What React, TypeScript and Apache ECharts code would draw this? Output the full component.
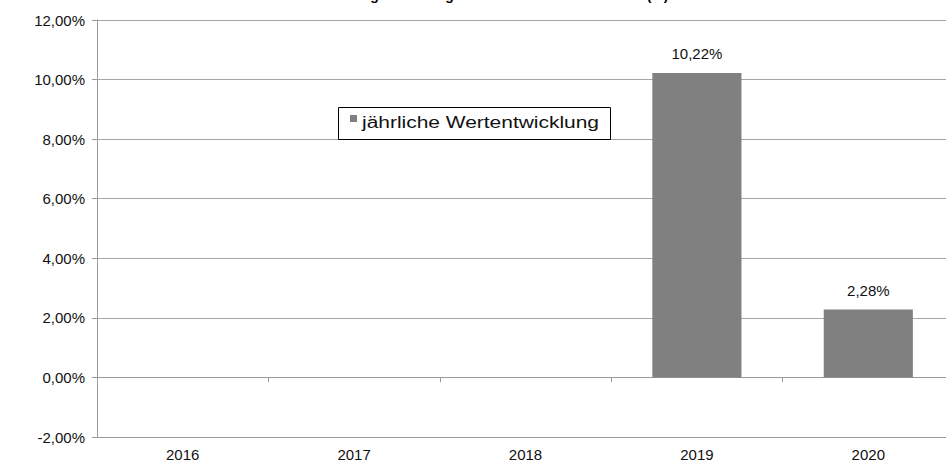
import React, { useEffect, useRef } from "react";
import * as echarts from "echarts";

const titleText = "Wertentwicklung seit Auflage der Anteilsklasse A in EUR (%)";
const seriesName = "jährliche Wertentwicklung";
const categories = ["2016", "2017", "2018", "2019", "2020"];
const values: (number | null)[] = [null, null, null, 10.22, 2.28];
const yMin = -2;
const yMax = 12;
const yStep = 2;

const fmt = (v: number) => v.toFixed(2).replace(".", ",") + "%";
const FONT = "'Liberation Sans', Arial, sans-serif";

export default function App() {
  const ref = useRef<HTMLDivElement>(null);
  useEffect(() => {
    if (!ref.current) return;
    const chart = echarts.init(ref.current, undefined, { renderer: "svg" });
    chart.setOption({
      animation: false,
      backgroundColor: "#ffffff",
      title: {
        text: titleText,
        left: 262,
        top: -17,
        textStyle: { fontFamily: FONT, fontSize: 14, fontWeight: "bold", color: "#000" },
      },
      legend: {
        data: [seriesName],
        left: 350,
        top: 115,
        padding: 0,
        icon: "rect",
        itemWidth: 7,
        itemHeight: 7,
        formatter: () => "",
        textStyle: { fontFamily: FONT, fontSize: 12, color: "#000" },
      },
      graphic: [
        {
          type: "rect",
          left: 336,
          top: 105,
          shape: { width: 272, height: 32 },
          style: { fill: "none", stroke: "#000", lineWidth: 1 },
          z: 10,
        },
        {
          type: "text",
          x: 362,
          y: 122,
          scaleX: 1.31,
          style: {
            text: seriesName,
            fontFamily: FONT,
            fontSize: 16,
            fill: "#111",
            verticalAlign: "middle",
            align: "left",
          },
          z: 10,
        },
      ],
      grid: {
        left: 97,
        top: 20,
        bottom: 28,
        width: 857,
        containLabel: false,
        outerBoundsMode: "none",
      },
      xAxis: [
        {
          type: "category",
          data: categories,
          position: "bottom",
          axisLine: { onZero: false, lineStyle: { color: "#9a9a9a", width: 1 } },
          axisTick: { show: false },
          axisLabel: { fontFamily: FONT, fontSize: 15, color: "#111", margin: 10 },
        },
        {
          type: "category",
          data: categories,
          position: "top",
          axisLine: { onZero: true, lineStyle: { color: "#9a9a9a", width: 1 } },
          axisTick: { show: true, inside: true, length: 5, lineStyle: { color: "#9a9a9a" } },
          axisLabel: { show: false },
        },
      ],
      yAxis: {
        type: "value",
        min: yMin,
        max: yMax,
        interval: yStep,
        axisLine: { show: true, lineStyle: { color: "#9a9a9a" } },
        axisTick: { show: true, length: 5, lineStyle: { color: "#9a9a9a" } },
        splitLine: { show: true, lineStyle: { color: "#a6a6a6", width: 1 } },
        axisLabel: {
          fontFamily: FONT,
          fontSize: 15,
          color: "#111",
          margin: 12,
          formatter: (v: number) => fmt(v),
        },
      },
      series: [
        {
          name: seriesName,
          type: "bar",
          xAxisIndex: 0,
          data: values,
          barWidth: "52%",
          itemStyle: { color: "#808080" },
          label: {
            show: true,
            position: "top",
            distance: 12,
            fontFamily: FONT,
            fontSize: 15,
            color: "#111",
            formatter: (p: any) => (p.value == null ? "" : fmt(p.value)),
          },
        },
      ],
    });
    return () => chart.dispose();
  }, []);
  return <div ref={ref} style={{ width: 946, height: 465, position: "absolute", left: 0, top: 0 }} />;
}
